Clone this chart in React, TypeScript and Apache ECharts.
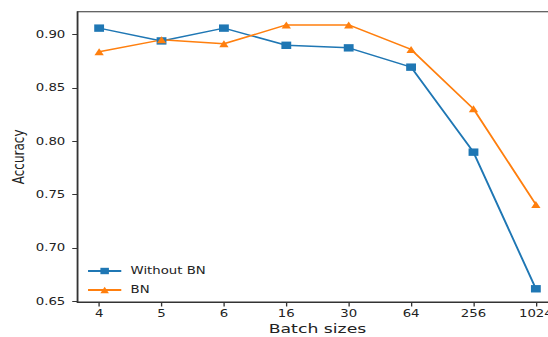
import React, { useEffect, useRef } from "react";
import * as echarts from "echarts";

const batchSizes = ["4", "5", "6", "16", "30", "64", "256", "1024"];
const withoutBN = [0.906, 0.894, 0.906, 0.8899, 0.8875, 0.8694, 0.7897, 0.6616];
const withBN = [0.8838, 0.895, 0.8913, 0.909, 0.909, 0.886, 0.8303, 0.7406];
const yTicks = [0.65, 0.7, 0.75, 0.8, 0.85, 0.9];

const S = 1.33;
const W = 548 / S;
const FONT = "DejaVu Sans";

export default function App() {
  const ref = useRef<HTMLDivElement>(null);
  useEffect(() => {
    if (!ref.current) return;
    const chart = echarts.init(ref.current, undefined, { renderer: "svg" });
    const idx = batchSizes.map((_, i) => i);
    chart.setOption({
      animation: false,
      backgroundColor: "#ffffff",
      grid: {
        left: 77.3 / S,
        top: 11.7,
        width: 480.4 / S,
        height: 290.3,
        show: true,
        borderColor: "#333",
        borderWidth: 1,
        backgroundColor: "transparent",
        containLabel: false,
        outerBoundsMode: "none",
      },
      legend: {
        orient: "vertical",
        left: 86.7 / S,
        top: 266,
        itemWidth: 25,
        itemHeight: 8,
        itemGap: 9,
        padding: 0,
        textStyle: { fontFamily: FONT, fontSize: 10, color: "#222", padding: [0, 0, 0, 2] },
        data: ["Without BN", "BN"],
      },
      xAxis: {
        type: "value",
        min: -0.35,
        max: 7.35,
        name: "Batch sizes",
        nameLocation: "middle",
        nameGap: 20,
        nameMoveOverlap: false,
        nameTextStyle: { fontFamily: FONT, fontSize: 13, color: "#222" },
        axisLine: { show: true, onZero: false, lineStyle: { color: "#333", width: 1 } },
        axisTick: { show: true, length: 4.5, customValues: idx, lineStyle: { color: "#333" } },
        axisLabel: {
          customValues: idx,
          formatter: (v: number) => batchSizes[Math.round(v)] ?? "",
          fontFamily: FONT,
          fontSize: 10,
          color: "#222",
          margin: 7,
        },
        splitLine: { show: false },
      },
      yAxis: {
        type: "value",
        min: 0.6492,
        max: 0.9214,
        name: "Accuracy",
        nameLocation: "middle",
        nameGap: 38,
        nameMoveOverlap: false,
        nameTextStyle: { fontFamily: FONT, fontSize: 12, color: "#222" },
        axisLine: { show: true, onZero: false, lineStyle: { color: "#333", width: 1 } },
        axisTick: { show: true, length: 3.8, customValues: yTicks, lineStyle: { color: "#333" } },
        axisLabel: {
          customValues: yTicks,
          formatter: (v: number) => v.toFixed(2),
          fontFamily: FONT,
          fontSize: 10,
          color: "#222",
          margin: 9,
        },
        splitLine: { show: false },
      },
      series: [
        {
          name: "Without BN",
          type: "line",
          data: withoutBN.map((v, i) => [i, v]),
          symbol: "rect",
          symbolSize: 7.4,
          color: "#1f77b4",
          lineStyle: { width: 1.5, color: "#1f77b4" },
          itemStyle: { color: "#1f77b4" },
        },
        {
          name: "BN",
          type: "line",
          data: withBN.map((v, i) => [i, v]),
          symbol: "triangle",
          symbolSize: [7, 7],
          color: "#ff7f0e",
          lineStyle: { width: 1.5, color: "#ff7f0e" },
          itemStyle: { color: "#ff7f0e" },
        },
      ],
    });
    return () => chart.dispose();
  }, []);
  return (
    <div
      ref={ref}
      style={{
        position: "fixed",
        left: 0,
        top: 0,
        width: W,
        height: 337,
        transform: `scaleX(${S})`,
        transformOrigin: "0 0",
      }}
    />
  );
}
